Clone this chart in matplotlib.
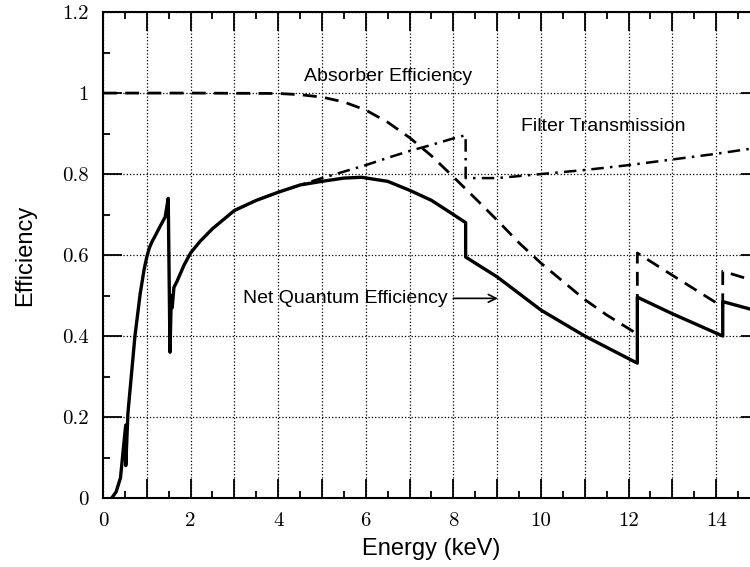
import matplotlib
matplotlib.use('Agg')
import matplotlib.pyplot as plt
from matplotlib.ticker import MultipleLocator

# Absorber efficiency (dashed)
absorber_e = [0, 2, 4, 4.5, 5, 5.5, 6, 6.5, 7, 7.5, 8, 8.5, 9, 9.5, 10, 10.5, 11, 11.5,
              12.2, 12.2, 13, 14.15, 14.15, 15]
absorber_v = [1.0, 1.0, 0.999, 0.996, 0.99, 0.978, 0.958, 0.928, 0.89, 0.845, 0.793, 0.74,
              0.686, 0.63, 0.58, 0.535, 0.49, 0.452, 0.405, 0.605, 0.55, 0.472, 0.56, 0.532]

# Filter transmission (dash-dot)
filter_e = [3.0, 3.5, 4.0, 4.5, 5.0, 5.5, 6.0, 6.5, 7.0, 7.5, 8.0, 8.28, 8.28,
            9.0, 10.0, 11.0, 12.0, 13.0, 14.0, 15.0]
filter_v = [0.71, 0.735, 0.755, 0.773, 0.79, 0.806, 0.822, 0.84, 0.857, 0.872, 0.888, 0.896, 0.79,
            0.79, 0.80, 0.81, 0.822, 0.836, 0.85, 0.866]

# Net quantum efficiency (solid)
net_e = [0.2, 0.3, 0.4, 0.5, 0.52, 0.52, 0.57, 0.73, 0.85, 0.94, 1.0, 1.06, 1.12, 1.19, 1.3, 1.42, 1.49,
         1.53, 1.56, 1.58, 1.62, 1.69, 1.85, 2.0, 2.21, 2.5, 3.0, 3.5, 4.0, 4.5, 5.0, 5.5, 5.9, 6.5,
         7.0, 7.5, 8.0, 8.28, 8.28, 9.0, 10.0, 11.0, 12.2, 12.2, 13.0, 14.15, 14.15, 15.0]
net_v = [0.0, 0.015, 0.05, 0.16, 0.18, 0.08, 0.21, 0.40, 0.505, 0.565, 0.595, 0.618, 0.633, 0.647, 0.67, 0.694, 0.74,
         0.36, 0.50, 0.47, 0.52, 0.535, 0.575, 0.605, 0.633, 0.665, 0.71, 0.735, 0.755, 0.773, 0.782, 0.79, 0.792, 0.782,
         0.76, 0.735, 0.70, 0.68, 0.595, 0.546, 0.464, 0.40, 0.333, 0.496, 0.455, 0.40, 0.485, 0.46]

x_ticks = list(range(16))
x_labels = ['0', '', '2', '', '4', '', '6', '', '8', '', '10', '', '12', '', '14', '']
y_ticks = [0, 0.2, 0.4, 0.6, 0.8, 1.0, 1.2]
y_labels = ['0', '0.2', '0.4', '0.6', '0.8', '1', '1.2']

fig = plt.figure(figsize=(7.5, 5.67), dpi=100)
ax = fig.add_axes([0.1373, 0.1217, 0.876, 0.857])

ax.plot(absorber_e, absorber_v, color='black', lw=2.0, ls=(0, (5, 3)))
ax.plot(filter_e, filter_v, color='black', lw=1.8, ls=(0, (5, 2.5, 1, 2.5)))
ax.plot(net_e, net_v, color='black', lw=2.4)

ax.set_xlim(0, 15)
ax.set_ylim(0, 1.2)

ax.set_xticks(x_ticks)
ax.set_xticklabels(x_labels, fontfamily='cmr10')
ax.xaxis.set_minor_locator(MultipleLocator(0.5))
ax.set_yticks(y_ticks)
ax.set_yticklabels(y_labels, fontfamily='cmr10')
ax.yaxis.set_minor_locator(MultipleLocator(0.1))
ax.grid(True, which='major', ls=':', color='black', lw=0.9)

ax.tick_params(which='major', direction='in', length=14, width=1.3, top=True, right=True,
               labelsize=15, pad=10)
ax.tick_params(which='minor', direction='in', length=5, width=1.3, top=True, right=True)

for s in ax.spines.values():
    s.set_linewidth(1.5)

ax.set_xlabel('Energy (keV)', fontfamily='Liberation Sans', fontsize=17, labelpad=6)
ax.set_ylabel('Efficiency', fontfamily='Liberation Sans', fontsize=17, labelpad=19)

ax.text(4.6, 1.04, 'Absorber Efficiency', fontfamily='Liberation Sans', fontsize=14, va='center')
ax.text(9.55, 0.918, 'Filter Transmission', fontfamily='Liberation Sans', fontsize=14, va='center')
ax.annotate('Net Quantum Efficiency', xy=(9.08, 0.493), xytext=(3.2, 0.493),
            fontfamily='Liberation Sans', fontsize=14, va='center',
            arrowprops=dict(arrowstyle='->', color='black', lw=1.2))

fig.savefig('out.png', dpi=100)
